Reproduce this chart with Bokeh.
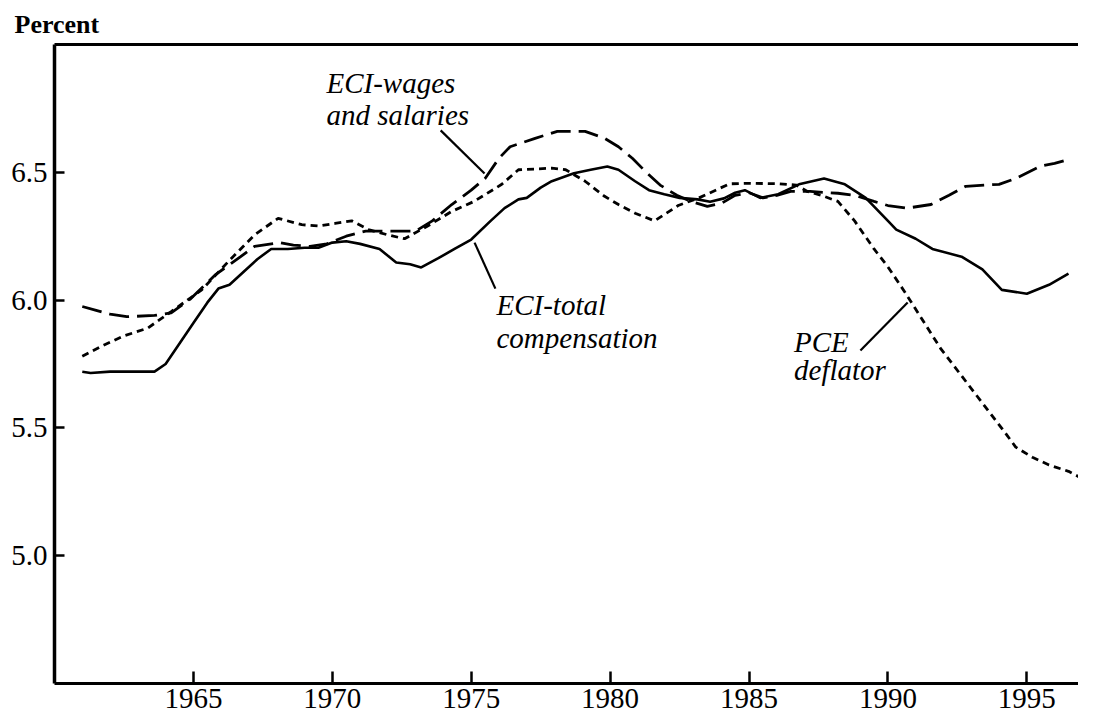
from bokeh.plotting import figure
from bokeh.models import FixedTicker, LinearAxis, Label, Range1d, CustomJSTickFormatter
from bokeh.embed import file_html
from bokeh.resources import INLINE

# ---------------- data ----------------
total_years = [1961.0, 1961.3, 1962.0, 1963.0, 1963.6, 1964.0, 1964.5, 1965.0, 1965.5, 1965.9,
               1966.3, 1966.8, 1967.3, 1967.8, 1968.4, 1969.0, 1969.5, 1970.0, 1970.5, 1971.0,
               1971.7, 1972.3, 1972.8, 1973.2, 1973.8, 1974.4, 1975.0, 1975.7, 1976.2, 1976.7,
               1977.0, 1977.5, 1977.9, 1978.7, 1979.3, 1979.9, 1980.3, 1980.9, 1981.4, 1981.95,
               1982.5, 1983.15, 1983.6, 1984.1, 1984.5, 1984.85, 1985.4, 1986.05, 1986.8, 1987.7,
               1988.45, 1989.2, 1990.0, 1990.3, 1991.0, 1991.6, 1992.65, 1993.4, 1994.1, 1995.0,
               1995.8, 1996.5]
total_vals = [5.72, 5.715, 5.72, 5.72, 5.72, 5.75, 5.83, 5.91, 5.99, 6.045,
              6.06, 6.11, 6.16, 6.20, 6.20, 6.205, 6.205, 6.225, 6.23, 6.22,
              6.20, 6.147, 6.14, 6.128, 6.163, 6.20, 6.237, 6.31, 6.36, 6.394,
              6.40, 6.44, 6.465, 6.496, 6.51, 6.523, 6.51, 6.465, 6.43, 6.414,
              6.40, 6.394, 6.385, 6.398, 6.42, 6.43, 6.40, 6.414, 6.453, 6.476,
              6.453, 6.40, 6.31, 6.276, 6.24, 6.20, 6.17, 6.12, 6.04, 6.025,
              6.06, 6.104]

wages_years = [1961.0, 1961.5, 1962.0, 1962.6, 1963.6, 1964.2, 1964.9, 1965.8, 1966.7, 1967.2,
               1968.1, 1968.6, 1969.2, 1969.8, 1970.5, 1971.2, 1972.25, 1973.0, 1973.6, 1974.3,
               1975.0, 1975.5, 1976.0, 1976.4, 1977.3, 1978.1, 1979.1, 1979.8, 1980.3, 1980.8,
               1981.3, 1981.8, 1982.4, 1982.9, 1983.5, 1984.0, 1984.5, 1985.0, 1985.5, 1986.0,
               1986.5, 1987.2, 1988.2, 1988.8, 1989.5, 1990.0, 1990.7, 1991.55, 1992.2, 1992.8,
               1993.5, 1994.0, 1994.6, 1995.5, 1996.0, 1996.5]
wages_vals = [5.975, 5.96, 5.945, 5.935, 5.94, 5.95, 6.005, 6.10, 6.17, 6.21,
              6.225, 6.215, 6.21, 6.22, 6.25, 6.27, 6.27, 6.27, 6.31, 6.374,
              6.43, 6.476, 6.555, 6.60, 6.633, 6.66, 6.66, 6.633, 6.60, 6.555,
              6.50, 6.45, 6.41, 6.386, 6.367, 6.378, 6.41, 6.42, 6.40, 6.41,
              6.425, 6.425, 6.418, 6.41, 6.386, 6.37, 6.36, 6.374, 6.41, 6.445,
              6.45, 6.453, 6.476, 6.524, 6.535, 6.55]

pce_years = [1961.0, 1961.7, 1962.5, 1963.35, 1964.2, 1965.3, 1966.25, 1967.2, 1968.05, 1968.9,
             1969.5, 1970.1, 1970.7, 1971.3, 1972.0, 1972.6, 1973.4, 1974.3, 1975.1, 1976.1,
             1976.7, 1977.9, 1978.4, 1979.1, 1979.8, 1980.3, 1980.9, 1981.6, 1982.45, 1983.2,
             1983.8, 1984.3, 1985.0, 1986.1, 1986.7, 1987.1, 1987.6, 1988.2, 1988.8, 1989.5,
             1990.0, 1990.6, 1991.2, 1991.9, 1993.1, 1994.2, 1994.6, 1995.2, 1995.8, 1996.5,
             1997.2]
pce_vals = [5.78, 5.82, 5.86, 5.89, 5.955, 6.04, 6.15, 6.255, 6.32, 6.295,
            6.29, 6.30, 6.31, 6.276, 6.255, 6.24, 6.288, 6.347, 6.386, 6.453,
            6.51, 6.516, 6.51, 6.465, 6.406, 6.374, 6.34, 6.31, 6.37, 6.40,
            6.43, 6.455, 6.457, 6.455, 6.45, 6.425, 6.41, 6.386, 6.31, 6.20,
            6.13, 6.033, 5.93, 5.81, 5.64, 5.484, 5.425, 5.385, 5.355, 5.33,
            5.29]

x_ticks = [1965, 1970, 1975, 1980, 1985, 1990, 1995]
y_ticks = [5.0, 5.5, 6.0, 6.5]

# annotation texts: (text, x, y)
labels = [("ECI-wages", 1969.79, 6.849), ("and salaries", 1969.79, 6.724),
          ("ECI-total", 1975.91, 5.981), ("compensation", 1975.91, 5.852),
          ("PCE", 1986.62, 5.836), ("deflator", 1986.62, 5.727)]
# leader lines: x0, y0, x1, y1
leader_x0 = [1973.90, 1975.12, 1989.01]
leader_y0 = [6.664, 6.225, 5.803]
leader_x1 = [1975.48, 1975.87, 1990.71]
leader_y1 = [6.495, 6.045, 5.991]

FONT = "Liberation Serif"

p = figure(width=1078, height=720, output_backend="svg", toolbar_location=None,
           x_range=Range1d(1960, 1996.86), y_range=Range1d(4.5, 7.0),
           min_border_left=54, min_border_top=44, min_border_bottom=37, min_border_right=0,
           background_fill_color="white", border_fill_color="white",
           title="Percent", title_location="above")
p.outline_line_color = None
p.grid.visible = False

p.title.text_font = FONT
p.title.text_font_size = "26px"
p.title.text_font_style = "bold"
p.title.text_color = "black"
p.title.align = "left"
p.title.offset = -40
p.title.standoff = 12

for ax in p.xaxis:
    ax.ticker = FixedTicker(ticks=x_ticks)
    ax.axis_line_width = 3
    ax.axis_line_color = "black"
    ax.major_tick_in = 12
    ax.major_tick_out = 0
    ax.major_tick_line_width = 2.5
    ax.minor_tick_line_color = None
    ax.major_label_text_font = FONT
    ax.major_label_text_font_size = "29px"
    ax.major_label_text_color = "black"
    ax.major_label_standoff = 5

for ax in p.yaxis:
    ax.ticker = FixedTicker(ticks=y_ticks)
    ax.axis_line_width = 3.5
    ax.axis_line_color = "black"
    ax.major_tick_in = 10
    ax.major_tick_out = 0
    ax.major_tick_line_width = 2.5
    ax.minor_tick_line_color = None
    ax.major_label_text_font = FONT
    ax.major_label_text_font_size = "29px"
    ax.major_label_text_color = "black"
    ax.major_label_standoff = 7
    ax.formatter = CustomJSTickFormatter(code="return tick.toFixed(1);")

top = LinearAxis(ticker=FixedTicker(ticks=[]), major_label_text_font_size="0px",
                 axis_line_width=3, axis_line_color="black", major_tick_line_color=None,
                 minor_tick_line_color=None)
p.add_layout(top, "above")

p.line(total_years, total_vals, line_color="black", line_width=2.6)
p.line(wages_years, wages_vals, line_color="black", line_width=2.8, line_dash="20 8")
p.line(pce_years, pce_vals, line_color="black", line_width=2.8, line_dash="7 5")

p.segment(leader_x0, leader_y0, leader_x1, leader_y1, line_color="black", line_width=2.2)

for txt, lx, ly in labels:
    p.add_layout(Label(x=lx, y=ly, text=txt, text_font=FONT, text_font_size="29px",
                       text_font_style="italic", text_color="black",
                       text_baseline="alphabetic", text_align="left"))

open("out.html", "w").write(file_html(p, INLINE))
